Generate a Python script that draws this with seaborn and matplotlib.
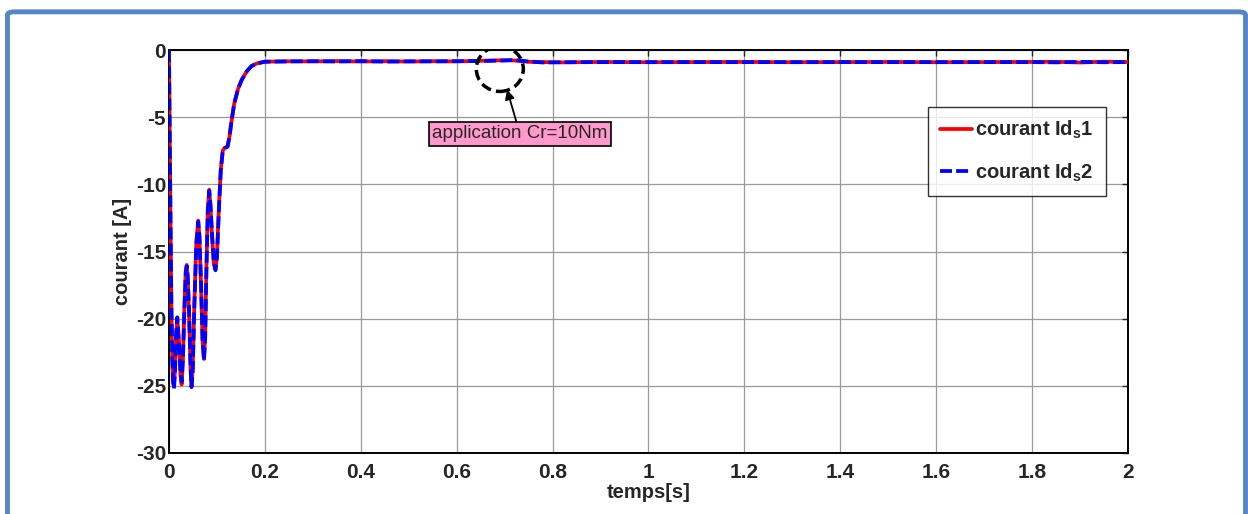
import numpy as np
import pandas as pd
import matplotlib
matplotlib.use("Agg")
import matplotlib.pyplot as plt
from matplotlib.patches import Ellipse, FancyBboxPatch
import seaborn as sns

# temps [s] et courant [A]
temps = [0.000, 0.001, 0.003, 0.005, 0.007, 0.0085, 0.0104, 0.0125, 0.015, 0.0174,
         0.0195, 0.0215, 0.024, 0.0264, 0.029, 0.032, 0.035, 0.037, 0.039, 0.042,
         0.045, 0.047, 0.0495, 0.053, 0.057, 0.061, 0.0635, 0.067, 0.070, 0.073,
         0.0755, 0.078, 0.081, 0.084, 0.0865, 0.090, 0.0935, 0.097, 0.100, 0.104,
         0.108, 0.112, 0.116, 0.122, 0.126, 0.130, 0.136, 0.144, 0.152, 0.162,
         0.172, 0.183, 0.200, 0.25, 0.30, 0.35, 0.40, 0.45, 0.50, 0.55,
         0.60, 0.65, 0.70, 0.72, 0.75, 0.78, 0.82, 0.90, 1.00, 1.10,
         1.20, 1.30, 1.40, 1.50, 1.60, 1.70, 1.80, 1.85, 1.90, 1.95, 2.00]

ids2 = [0.0, -4.0, -12.0, -19.0, -23.0, -24.6, -25.2, -24.0, -21.0, -19.9,
        -21.3, -22.2, -24.0, -24.7, -23.0, -19.5, -16.6, -16.1, -16.8, -19.5,
        -23.5, -25.1, -24.0, -19.0, -14.5, -12.8, -13.8, -17.5, -21.5, -23.1,
        -21.5, -16.5, -12.0, -10.5, -11.5, -13.8, -15.8, -16.4, -15.5, -12.0,
        -9.0, -7.6, -7.3, -7.2, -6.5, -5.4, -4.0, -2.9, -2.2, -1.6,
        -1.2, -1.0, -0.87, -0.85, -0.83, -0.86, -0.82, -0.87, -0.84, -0.85,
        -0.83, -0.82, -0.78, -0.74, -0.85, -0.93, -0.91, -0.90, -0.90, -0.90,
        -0.90, -0.90, -0.90, -0.90, -0.90, -0.90, -0.90, -0.92, -0.88, -0.91, -0.90]

ids1 = [0.0, -4.0, -12.0, -19.2, -23.2, -24.8, -25.0, -23.8, -21.2, -20.1,
        -21.0, -22.0, -24.2, -24.9, -23.2, -19.3, -16.4, -16.0, -16.9, -19.8,
        -23.8, -25.0, -23.7, -18.8, -14.3, -12.7, -13.9, -17.7, -21.7, -23.0,
        -21.3, -16.3, -11.8, -10.4, -11.6, -14.0, -15.9, -16.3, -15.3, -11.8,
        -8.9, -7.5, -7.3, -7.2, -6.5, -5.4, -4.0, -2.9, -2.2, -1.6,
        -1.2, -1.0, -0.87, -0.84, -0.85, -0.82, -0.86, -0.83, -0.86, -0.83,
        -0.85, -0.80, -0.76, -0.78, -0.88, -0.90, -0.92, -0.89, -0.91, -0.90,
        -0.89, -0.91, -0.90, -0.89, -0.91, -0.90, -0.89, -0.88, -0.93, -0.87, -0.90]

xticks = [0, 0.2, 0.4, 0.6, 0.8, 1, 1.2, 1.4, 1.6, 1.8, 2]
xtick_labels = ["0", "0.2", "0.4", "0.6", "0.8", "1", "1.2", "1.4", "1.6", "1.8", "2"]
yticks = [0, -5, -10, -15, -20, -25, -30]

sns.set_style("white")
plt.rcParams["font.family"] = ["Liberation Sans", "DejaVu Sans"]
plt.rcParams["axes.unicode_minus"] = False
plt.rcParams["mathtext.fontset"] = "custom"
plt.rcParams["mathtext.rm"] = "Liberation Sans"
plt.rcParams["mathtext.bf"] = "Liberation Sans:bold"

df1 = pd.DataFrame({"t": temps, "i": ids1})
df2 = pd.DataFrame({"t": temps, "i": ids2})

fig = plt.figure(figsize=(12.48, 5.14), dpi=100)
ax = fig.add_axes([0.1354, 0.1187, 0.7684, 0.784])

sns.lineplot(data=df1, x="t", y="i", ax=ax, color="#ff0000", lw=2.7,
             label=r"courant Id$_{\mathbf{s}}$1", zorder=3)
sns.lineplot(data=df2, x="t", y="i", ax=ax, color="#0000ff", lw=2.7,
             dashes=False, label=r"courant Id$_{\mathbf{s}}$2", zorder=4)
ax.lines[1].set_dashes([3.2, 1.1])

ax.set_xlim(0, 2)
ax.set_ylim(-30, 0)
ax.set_xticks(xticks)
ax.set_xticklabels(xtick_labels)
ax.set_yticks(yticks)
ax.grid(True, color="#9a9a9a", lw=0.9)
ax.set_axisbelow(True)
for s in ax.spines.values():
    s.set_color("black")
    s.set_linewidth(1.4)
ax.tick_params(direction="in", top=True, right=True, length=4, width=1,
               labelsize=15, pad=2)
ax.tick_params(axis="x", pad=7)
for lab in ax.get_xticklabels() + ax.get_yticklabels():
    lab.set_fontweight("bold")

ax.set_xlabel("temps[s]", fontsize=14.5, fontweight="bold", labelpad=1)
ax.set_ylabel("courant [A]", fontsize=14.5, fontweight="bold", labelpad=3)

leg = ax.legend(loc="upper right", bbox_to_anchor=(0.977, 0.859), borderaxespad=0,
                frameon=True, fancybox=False, edgecolor="black",
                prop={"weight": "bold", "size": 14.5}, handlelength=1.6,
                handletextpad=0.15, labelspacing=1.0, borderpad=0.6)
leg.get_frame().set_linewidth(1.0)

# annotation: cercle pointillé + flèche + étiquette rose
circ = Ellipse((0.690, -1.41), 0.098, 3.35, fill=False, ls=(0, (3, 1.5)),
               lw=2.5, edgecolor="black", zorder=5)
ax.add_patch(circ)
ax.annotate("application Cr=10Nm", xy=(0.705, -2.95), xytext=(0.732, -6.25),
            ha="center", va="center", fontsize=13.5,
            bbox=dict(boxstyle="square,pad=0.2", fc="#ff99cc", ec="black", lw=1.2),
            arrowprops=dict(arrowstyle="-|>", color="black", lw=1.3,
                            mutation_scale=14, shrinkA=0, shrinkB=0),
            zorder=6)

frame = FancyBboxPatch((0.006, -0.05), 0.992, 1.027, transform=fig.transFigure,
                       boxstyle="round,pad=0,rounding_size=0.006", fill=False,
                       ec="#5585c5", lw=3.5, clip_on=False)
fig.patches.append(frame)

fig.savefig("out.png", dpi=100)
